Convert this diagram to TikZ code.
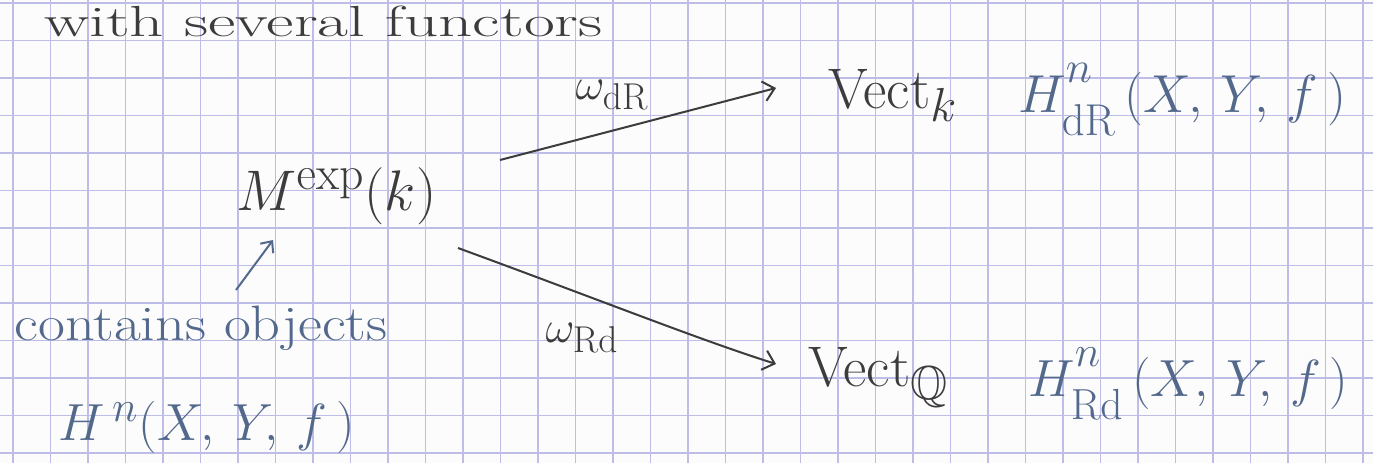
\documentclass[tikz,border=0pt]{standalone}
\usepackage{amssymb}
\usetikzlibrary{arrows.meta}
\definecolor{paper}{HTML}{FCFCFD}
\definecolor{gridc}{HTML}{BDBDE8}
\definecolor{inkk}{HTML}{3C3C3C}
\definecolor{inkb}{HTML}{53698C}
\newcommand{\myup}[1]{\raisebox{0.45ex}{$\scriptstyle #1$}}
\newcommand{\mydown}[1]{\raisebox{-0.45ex}{$\scriptstyle #1$}}
\tikzset{
  gridline/.style={gridc, line width=1.2pt},
  pen/.style={inkk, line width=2pt},
  bluepen/.style={inkb, line width=2pt},
  penarrow/.style={pen, -{Straight Barb[length=11pt,width=20pt,line width=2pt]}},
  bluearrow/.style={bluepen, -{Straight Barb[length=9pt,width=16pt,line width=2pt]}},
  lbl/.style={inkk, inner sep=0pt, font=\Huge, transform shape},
  blbl/.style={inkb, inner sep=0pt, font=\Huge, transform shape},
}
\begin{document}
\begin{tikzpicture}[x=1pt,y=-1pt]
\useasboundingbox (0,0) rectangle (1373,463);
\fill[paper] (0,0) rectangle (1373,463);
\foreach \i in {0,...,36} \draw[gridline] ({13+37.5*\i},0) -- ({13+37.5*\i},463);
\foreach \j in {0,...,12} \draw[gridline] (0,{3+37.5*\j}) -- (1373,{3+37.5*\j});

% top line
\node[lbl, anchor=base west, xscale=2.7, yscale=1.75] (top) at (44,36) {with several functors};

% nodes
\node[lbl, anchor=base west, scale=2.3] (m) at (236,210) {$M^{\mathrm{exp}}(k)$};
\node[lbl, anchor=base west, scale=2.3] (vk) at (828,108) {$\mathrm{Vect}_k$};
\node[lbl, anchor=base west, scale=2.3] (vq) at (808,386) {$\mathrm{Vect}_{\mathbb{Q}}$};
\node[blbl, anchor=base west, scale=2.15] (hdr) at (1018,112) {$H^{\myup{n}}_{\mydown{\mathrm{dR}}}\,(X,\,Y,\,f\,)$};
\node[blbl, anchor=base west, scale=2.1] (hrd) at (1028,396) {$H^{\myup{n}}_{\mydown{\mathrm{Rd}}}\,(X,\,Y,\,f\,)$};

% left annotations
\node[blbl, anchor=base west, xscale=2.35, yscale=2.0] (cont) at (14,340) {contains objects};
\node[blbl, anchor=base west, scale=2.1] (hn) at (58,440) {$H^{\,n}(X,\,Y,\,f\,)$};

% arrows
\coordinate (a1s) at (500,160);
\coordinate (a1e) at (776,88);
\coordinate (a2s) at (458,248);
\coordinate (a2e) at (776,364);
\draw[penarrow] (a1s) -- (a1e);
\draw[penarrow] (a2s) .. controls (600,300) and (700,340) .. (a2e);
\node[lbl, scale=1.8] (wdr) at (612,95) {$\omega_{\mathrm{dR}}$};
\node[lbl, scale=1.8] (wrd) at (582,338) {$\omega_{\mathrm{Rd}}$};

\coordinate (sa) at (236,290);
\coordinate (sb) at (273,240);
\draw[bluearrow] (sa) -- (sb);
\end{tikzpicture}
\end{document}
